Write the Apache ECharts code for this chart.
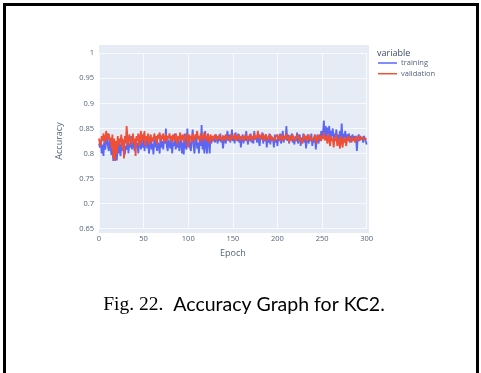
<!DOCTYPE html>
<html>
<head>
<meta charset="utf-8">
<script src="https://cdn.jsdelivr.net/npm/echarts@6/dist/echarts.min.js"></script>
<style>
  html, body { margin: 0; padding: 0; background: #fff; }
  #chart { width: 481px; height: 373px; }
</style>
</head>
<body>
<div id="chart"></div>
<script>
// accuracy per epoch (epoch 0..300)
const training = [
  0.820, 0.812, 0.825, 0.800, 0.818, 0.795, 0.830, 0.808, 0.822, 0.840, 0.815, 0.805, 0.828, 0.812, 0.797, 0.820, 0.785, 0.810, 0.790, 0.815,
  0.786, 0.818, 0.800, 0.825, 0.795, 0.812, 0.830, 0.805, 0.822, 0.798, 0.815, 0.808, 0.832, 0.800, 0.820, 0.812, 0.835, 0.808, 0.825, 0.815,
  0.805, 0.830, 0.812, 0.822, 0.800, 0.818, 0.835, 0.808, 0.825, 0.812, 0.840, 0.805, 0.820, 0.830, 0.810, 0.825, 0.800, 0.815, 0.832, 0.808,
  0.820, 0.798, 0.828, 0.812, 0.835, 0.805, 0.822, 0.815, 0.800, 0.838, 0.812, 0.825, 0.808, 0.830, 0.820, 0.850, 0.815, 0.805, 0.828, 0.818,
  0.810, 0.835, 0.800, 0.822, 0.815, 0.840, 0.808, 0.825, 0.812, 0.830, 0.805, 0.818, 0.835, 0.800, 0.822, 0.798, 0.840, 0.815, 0.808, 0.850,
  0.820, 0.835, 0.812, 0.805, 0.828, 0.848, 0.815, 0.800, 0.825, 0.838, 0.810, 0.822, 0.800, 0.830, 0.815, 0.857, 0.808, 0.835, 0.800, 0.845,
  0.815, 0.800, 0.838, 0.825, 0.800, 0.832, 0.820, 0.835, 0.825, 0.830, 0.822, 0.838, 0.828, 0.820, 0.835, 0.825, 0.840, 0.822, 0.830, 0.810,
  0.828, 0.835, 0.820, 0.832, 0.845, 0.825, 0.838, 0.822, 0.830, 0.848, 0.825, 0.835, 0.820, 0.842, 0.830, 0.825, 0.840, 0.822, 0.835, 0.812,
  0.830, 0.838, 0.820, 0.835, 0.825, 0.845, 0.828, 0.818, 0.835, 0.825, 0.840, 0.822, 0.832, 0.820, 0.845, 0.828, 0.835, 0.822, 0.838, 0.825,
  0.815, 0.835, 0.828, 0.842, 0.820, 0.832, 0.825, 0.838, 0.812, 0.830, 0.822, 0.840, 0.818, 0.835, 0.825, 0.830, 0.812, 0.838, 0.822, 0.828,
  0.815, 0.835, 0.825, 0.840, 0.820, 0.830, 0.845, 0.822, 0.835, 0.828, 0.855, 0.825, 0.838, 0.820, 0.832, 0.826, 0.840, 0.822, 0.830, 0.818,
  0.835, 0.825, 0.842, 0.820, 0.830, 0.838, 0.815, 0.832, 0.825, 0.840, 0.822, 0.835, 0.810, 0.828, 0.838, 0.820, 0.832, 0.825, 0.840, 0.815,
  0.830, 0.822, 0.835, 0.808, 0.828, 0.838, 0.820, 0.832, 0.825, 0.845, 0.830, 0.840, 0.866, 0.835, 0.855, 0.828, 0.852, 0.838, 0.855, 0.830,
  0.845, 0.835, 0.850, 0.825, 0.840, 0.832, 0.848, 0.828, 0.838, 0.822, 0.845, 0.830, 0.860, 0.825, 0.840, 0.832, 0.845, 0.828, 0.838, 0.825,
  0.840, 0.830, 0.835, 0.822, 0.838, 0.828, 0.835, 0.825, 0.832, 0.805, 0.830, 0.838, 0.825, 0.835, 0.828, 0.832, 0.822, 0.835, 0.830, 0.828,
  0.818
];

const validation = [
  0.830, 0.820, 0.815, 0.835, 0.825, 0.840, 0.830, 0.822, 0.845, 0.835, 0.828, 0.840, 0.825, 0.832, 0.810, 0.838, 0.790, 0.830, 0.785, 0.825,
  0.800, 0.835, 0.815, 0.830, 0.822, 0.838, 0.810, 0.828, 0.790, 0.835, 0.820, 0.855, 0.828, 0.815, 0.838, 0.825, 0.830, 0.818, 0.840, 0.822,
  0.830, 0.795, 0.835, 0.825, 0.840, 0.815, 0.832, 0.845, 0.820, 0.838, 0.828, 0.845, 0.815, 0.835, 0.825, 0.840, 0.818, 0.830, 0.838, 0.822,
  0.832, 0.825, 0.840, 0.828, 0.835, 0.818, 0.838, 0.830, 0.842, 0.825, 0.835, 0.828, 0.840, 0.822, 0.833, 0.838, 0.825, 0.835, 0.830, 0.840,
  0.828, 0.835, 0.822, 0.838, 0.830, 0.825, 0.840, 0.832, 0.818, 0.835, 0.828, 0.842, 0.825, 0.833, 0.838, 0.822, 0.835, 0.830, 0.840, 0.825,
  0.812, 0.838, 0.828, 0.835, 0.822, 0.840, 0.830, 0.825, 0.838, 0.832, 0.845, 0.828, 0.835, 0.822, 0.840, 0.830, 0.836, 0.825, 0.843, 0.830,
  0.835, 0.825, 0.840, 0.830, 0.820, 0.838, 0.828, 0.835, 0.825, 0.833, 0.838, 0.830, 0.826, 0.835, 0.830, 0.838, 0.828, 0.833, 0.825, 0.836,
  0.830, 0.826, 0.838, 0.830, 0.835, 0.828, 0.833, 0.825, 0.838, 0.830, 0.835, 0.828, 0.840, 0.830, 0.826, 0.835, 0.830, 0.838, 0.826, 0.833,
  0.828, 0.835, 0.830, 0.825, 0.838, 0.830, 0.835, 0.826, 0.833, 0.838, 0.830, 0.825, 0.835, 0.830, 0.840, 0.828, 0.835, 0.830, 0.845, 0.832,
  0.838, 0.828, 0.835, 0.830, 0.840, 0.825, 0.833, 0.838, 0.830, 0.826, 0.835, 0.830, 0.838, 0.826, 0.833, 0.830, 0.836, 0.825, 0.833, 0.830,
  0.838, 0.828, 0.835, 0.825, 0.832, 0.838, 0.830, 0.826, 0.835, 0.830, 0.840, 0.828, 0.833, 0.822, 0.836, 0.830, 0.826, 0.838, 0.830, 0.833,
  0.825, 0.835, 0.830, 0.838, 0.826, 0.833, 0.830, 0.835, 0.820, 0.833, 0.838, 0.828, 0.835, 0.825, 0.830, 0.838, 0.826, 0.833, 0.830, 0.836,
  0.825, 0.833, 0.838, 0.830, 0.820, 0.835, 0.828, 0.838, 0.830, 0.825, 0.835, 0.830, 0.842, 0.826, 0.835, 0.830, 0.820, 0.838, 0.828, 0.815,
  0.835, 0.825, 0.830, 0.812, 0.833, 0.825, 0.838, 0.815, 0.830, 0.822, 0.810, 0.835, 0.825, 0.812, 0.830, 0.822, 0.833, 0.815, 0.828, 0.825,
  0.835, 0.822, 0.830, 0.826, 0.833, 0.825, 0.830, 0.822, 0.835, 0.828, 0.832, 0.825, 0.835, 0.828, 0.830, 0.826, 0.833, 0.828, 0.830, 0.826,
  0.830
];

const xTicks = { min: 0, max: 300, interval: 50 };
const yTicks = { min: 0.65, max: 1, interval: 0.05 };

const plotlyBlue = '#5b66f5';
const plotlyRed = '#ee4f36';
const labelColor = '#55637e';
const gridColor = 'rgba(255,255,255,0.75)';

const chart = echarts.init(document.getElementById('chart'), null, { renderer: 'canvas' });

// epoch index is the x value
const toPairs = (arr) => arr.map((v, i) => [i, v]);

chart.setOption({
  animation: false,
  backgroundColor: '#fff',
  textStyle: { fontFamily: 'Open Sans' },
  grid: {
    left: 99,
    top: 53.3,
    width: 267.7,
    height: 175.4,
    containLabel: false,
  },
  graphic: [
    // plot background (plotly pads beyond the tick range)
    { type: 'rect', z: -10, silent: true, shape: { x: 99, y: 45, width: 270, height: 188 }, style: { fill: '#e5ecf6' } },
    // frame around the figure
    { type: 'rect', silent: true, shape: { x: 3, y: 3, width: 3, height: 370 }, style: { fill: '#000' } },
    { type: 'rect', silent: true, shape: { x: 3, y: 3, width: 476, height: 3 }, style: { fill: '#000' } },
    { type: 'rect', silent: true, shape: { x: 476, y: 3, width: 3, height: 370 }, style: { fill: '#000' } },
    {
      type: 'text', silent: true, x: 377, y: 53,
      style: { text: 'variable', font: '9px "Open Sans"', fill: '#3a4a68', textVerticalAlign: 'middle' },
    },
    {
      type: 'text', silent: true, x: 244, y: 305,
      style: {
        text: '{a|Fig. 22.}{b|  Accuracy Graph for KC2.}',
        textAlign: 'center',
        textVerticalAlign: 'middle',
        rich: {
          a: { fontFamily: 'Liberation Serif', fontSize: 19.5, fill: '#000' },
          b: { fontFamily: 'Lato', fontSize: 19.5, fill: '#000' },
        },
      },
    },
  ],
  legend: {
    orient: 'vertical',
    left: 378,
    top: 58.5,
    padding: 0,
    icon: 'rect',
    itemWidth: 19,
    itemHeight: 1.5,
    itemGap: 1.7,
    textStyle: { fontSize: 7.5, color: labelColor, fontFamily: 'Open Sans', lineHeight: 9, padding: [0, 0, 0, -1] },
    data: ['training', 'validation'],
  },
  xAxis: {
    type: 'value',
    ...xTicks,
    name: 'Epoch',
    nameLocation: 'middle',
    nameGap: 20,
    nameTextStyle: { fontSize: 9, color: labelColor },
    axisLine: { show: false },
    axisTick: { show: false },
    axisLabel: { fontSize: 7.5, color: labelColor, margin: 6, showMinLabel: true, showMaxLabel: true },
    splitLine: { show: true, lineStyle: { color: gridColor, width: 1 } },
  },
  yAxis: {
    type: 'value',
    ...yTicks,
    name: 'Accuracy',
    nameLocation: 'middle',
    nameGap: 35,
    nameTextStyle: { fontSize: 9, color: labelColor },
    axisLine: { show: false },
    axisTick: { show: false },
    axisLabel: {
      fontSize: 7.5,
      color: labelColor,
      margin: 5,
      formatter: (v) => String(Math.round(v * 100) / 100),
    },
    splitLine: { show: true, lineStyle: { color: gridColor, width: 1 } },
  },
  series: [
    {
      name: 'training',
      type: 'line',
      data: toPairs(training),
      showSymbol: false,
      color: plotlyBlue,
      lineStyle: { width: 1.8, color: plotlyBlue },
      z: 2,
    },
    {
      name: 'validation',
      type: 'line',
      data: toPairs(validation),
      showSymbol: false,
      color: plotlyRed,
      lineStyle: { width: 1.8, color: plotlyRed },
      z: 3,
    },
  ],
});
</script>
</body>
</html>
